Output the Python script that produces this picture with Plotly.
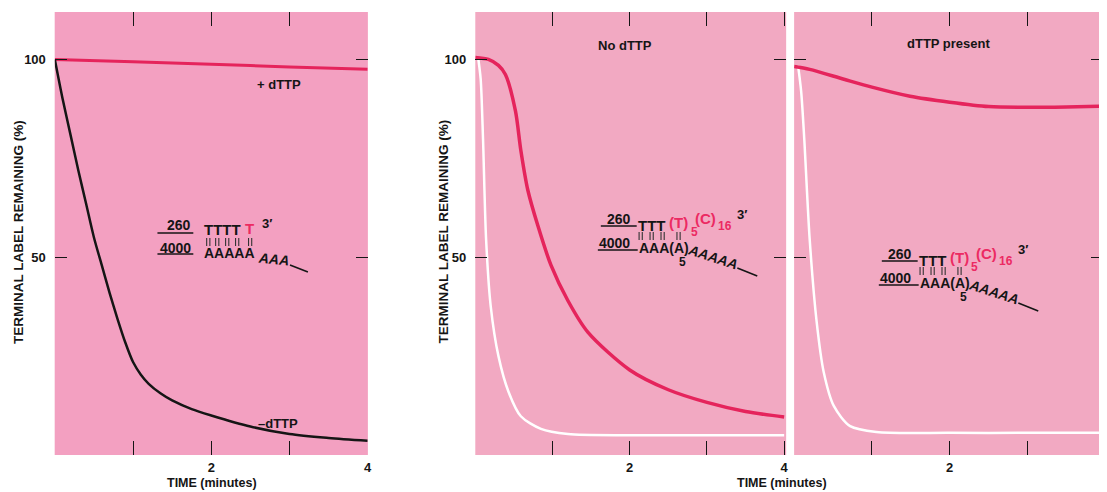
import plotly.graph_objects as go

# page is offset by the body margin (8 px); the figure is sized to fit the window
OX, OY = 8, 8
W, H = 1107 - OX, 492 - OY
FONT = "Liberation Sans, Arial, sans-serif"
RED = "#E5245C"
RED_TXT = "#EC2A62"
INK = "#151515"
PINK_L = "#F3A0C1"
PINK_R = "#F2A9C2"

# ---------------- data ----------------
t_minus = [0, 0.1, 0.2, 0.3, 0.4, 0.5, 0.6, 0.7, 0.8, 0.9, 1.0, 1.1, 1.2, 1.35, 1.5, 1.75, 2.0, 2.5, 3.0, 3.5, 4.0]
minus_dttp = [100, 90, 81, 72, 63.5, 55, 48, 41, 34.5, 28.5, 23.5, 20.3, 18, 15.6, 13.8, 11.6, 10, 7.2, 5.3, 4.3, 3.6]
t_plus = [0, 1, 2, 3, 4]
plus_dttp = [100, 99.4, 98.8, 98.1, 97.5]

t_nod_red = [0, 0.17, 0.3, 0.39, 0.52, 0.59, 0.68, 0.81, 0.98, 1.2, 1.46, 2.0, 2.5, 3.0, 3.5, 4.0]
nod_red = [100.5, 100, 98.5, 96.2, 87, 77, 67, 58, 48, 39, 31, 21.5, 16.5, 13.3, 11.0, 9.6]
t_nod_white = [0.04, 0.07, 0.1, 0.14, 0.2, 0.3, 0.43, 0.59, 0.85, 1.2, 2, 3, 4]
nod_white = [100, 95, 80, 54.5, 37.6, 25, 16, 9.8, 6.6, 5.3, 5.0, 5.0, 5.0]

t_pre_red = [0, 0.2, 0.64, 1.0, 1.49, 2.0, 2.5, 3.0, 3.5, 3.97]
pre_red = [98.2, 97.5, 95, 93, 90.7, 89.2, 88.1, 87.9, 88.0, 88.2]
t_pre_white = [0.05, 0.09, 0.13, 0.2, 0.29, 0.38, 0.51, 0.72, 1.06, 2, 3, 3.97]
pre_white = [98.5, 92, 80, 54.5, 33.6, 21, 12.4, 7.3, 5.8, 5.6, 5.6, 5.6]

x_tickvals = [1, 2, 3, 4]
x_ticktext = ["", "2", "", "4"]
y_tickvals = [50, 100]
y_ticktext = ["50", "100"]


def px(x):
    return (x - OX) / W


def py(y):
    return 1 - (y - OY) / H


# ---------------- figure ----------------
fig = go.Figure()


def line(x, y, ax, color, width):
    fig.add_trace(go.Scatter(x=x, y=y, xaxis=ax[0], yaxis=ax[1], mode="lines",
                             line=dict(color=color, width=width, shape="spline", smoothing=0.8),
                             hoverinfo="skip", showlegend=False))


line(t_plus, plus_dttp, ("x", "y"), RED, 3)
line(t_minus, minus_dttp, ("x", "y"), INK, 2.5)
line(t_nod_white, nod_white, ("x2", "y2"), "white", 2.5)
line(t_nod_red, nod_red, ("x2", "y2"), RED, 3.5)
line(t_pre_white, pre_white, ("x3", "y3"), "white", 2.5)
line(t_pre_red, pre_red, ("x3", "y3"), RED, 3.5)

ydom = [py(455), py(12)]
tickfont = dict(family=FONT, size=13, color=INK, weight="bold")


def xax(dom, rng):
    return dict(domain=dom, range=rng, tickvals=x_tickvals, ticktext=x_ticktext,
                ticks="inside", ticklen=14, tickwidth=1.4, tickcolor=INK, mirror="ticks",
                showline=False, showgrid=False, zeroline=False, tickfont=tickfont,
                ticklabelstandoff=3, fixedrange=True)


def yax(anchor, labels=True):
    return dict(domain=ydom, range=[0, 112], anchor=anchor, tickvals=y_tickvals, ticktext=y_ticktext,
                ticks="inside", ticklen=12, tickwidth=1.4, tickcolor=INK, mirror="ticks",
                showline=False, showgrid=False, zeroline=False, tickfont=tickfont,
                showticklabels=labels, ticklabelstandoff=8, fixedrange=True)


fig.update_layout(
    width=W, height=H, margin=dict(l=0, r=0, t=0, b=0),
    paper_bgcolor="white", plot_bgcolor=PINK_R,
    xaxis=dict(xax([px(55), px(369)], [0, 4]), anchor="y"),
    yaxis=yax("x"),
    xaxis2=dict(xax([px(477), px(789)], [0, 4.026]), anchor="y2"),
    yaxis2=yax("x2"),
    xaxis3=dict(xax([px(797), 1.0], [0, 3.97]), anchor="y3"),
    yaxis3=yax("x3", labels=False),
    showlegend=False,
)

shapes = [dict(type="rect", xref="x domain", yref="y domain", x0=0, x1=1, y0=0, y1=1,
               fillcolor=PINK_L, line=dict(width=0), layer="below")]
anns = []


def A(x, y, text, size=14, color=INK, xanchor="center", angle=0, weight="bold", style="normal"):
    anns.append(dict(x=px(x), y=py(y), xref="paper", yref="paper", text=text, showarrow=False,
                     xanchor=xanchor, yanchor="middle", textangle=angle, borderpad=0,
                     font=dict(family=FONT, size=size, color=color, weight=weight, style=style)))


def L(x0, y0, x1, y1, w=1.6, color=INK):
    shapes.append(dict(type="line", xref="paper", yref="paper", x0=px(x0), y0=py(y0),
                       x1=px(x1), y1=py(y1), line=dict(color=color, width=w)))


def bars(bx, by):
    for dx in (-1.6, 1.6):
        L(bx + dx, by - 4, bx + dx, by + 4, w=1.1, color="#333333")


# axis titles
A(18, 232, "TERMINAL LABEL REMAINING (%)", 13.5, angle=-90)
A(445, 231, "TERMINAL LABEL REMAINING (%)", 13.5, angle=-90)
A(213, 483, "TIME (minutes)", 12.5)
A(785, 483, "TIME (minutes)", 12.5)
A(1106, 467, "4", 13, xanchor="left")

# curve labels / panel titles
A(280, 85, "+ dTTP", 13)
A(279, 423, "\u2013dTTP", 13)
A(627, 45, "No dTTP", 13)
A(952, 43, "dTTP present", 13)

# left diagram
A(180, 225, "260", 14)
L(158, 233, 194, 233)
A(176, 248, "4000", 14)
L(158, 254, 194, 254)
A(204, 229, "TTTT", 15, xanchor="left")
A(250, 228, "T", 15, color=RED_TXT)
A(268, 223, "3\u2032", 13)
for bx in [209, 218, 228, 238, 251]:
    bars(bx, 242)
A(204, 253, "AAAAA", 14, xanchor="left")
A(274, 259, "AAA", 14, angle=6, style="italic")
L(291, 265, 309, 272)


# middle / right diagrams
def diagram(ox, oy):
    A(621 + ox, 219 + oy, "260", 14)
    L(603 + ox, 226 + oy, 639 + ox, 226 + oy)
    A(617 + ox, 243 + oy, "4000", 14)
    L(600 + ox, 250 + oy, 640 + ox, 250 + oy)
    A(639 + ox, 225 + oy, "TTT", 15, xanchor="left")
    A(670 + ox, 222 + oy, "(T)", 15, color=RED_TXT, xanchor="left")
    A(692 + ox, 232 + oy, "5", 12, color=RED_TXT, xanchor="left")
    A(697 + ox, 218 + oy, "(C)", 15, color=RED_TXT, xanchor="left")
    A(720 + ox, 226 + oy, "16", 12, color=RED_TXT, xanchor="left")
    A(739 + ox, 214 + oy, "3\u2032", 13, xanchor="left")
    for bx in [643, 654, 665, 681]:
        bars(bx + ox, 236 + oy)
    A(640 + ox, 248 + oy, "AAA(A)", 14, xanchor="left")
    A(685 + ox, 262 + oy, "5", 12)
    A(716 + ox, 257 + oy, "AAAAA", 14, angle=18, style="italic")
    L(740 + ox, 268 + oy, 760 + ox, 276 + oy)


diagram(0, 0)
diagram(282, 35)

fig.update_layout(shapes=shapes, annotations=anns)
fig.write_html("out.html")
